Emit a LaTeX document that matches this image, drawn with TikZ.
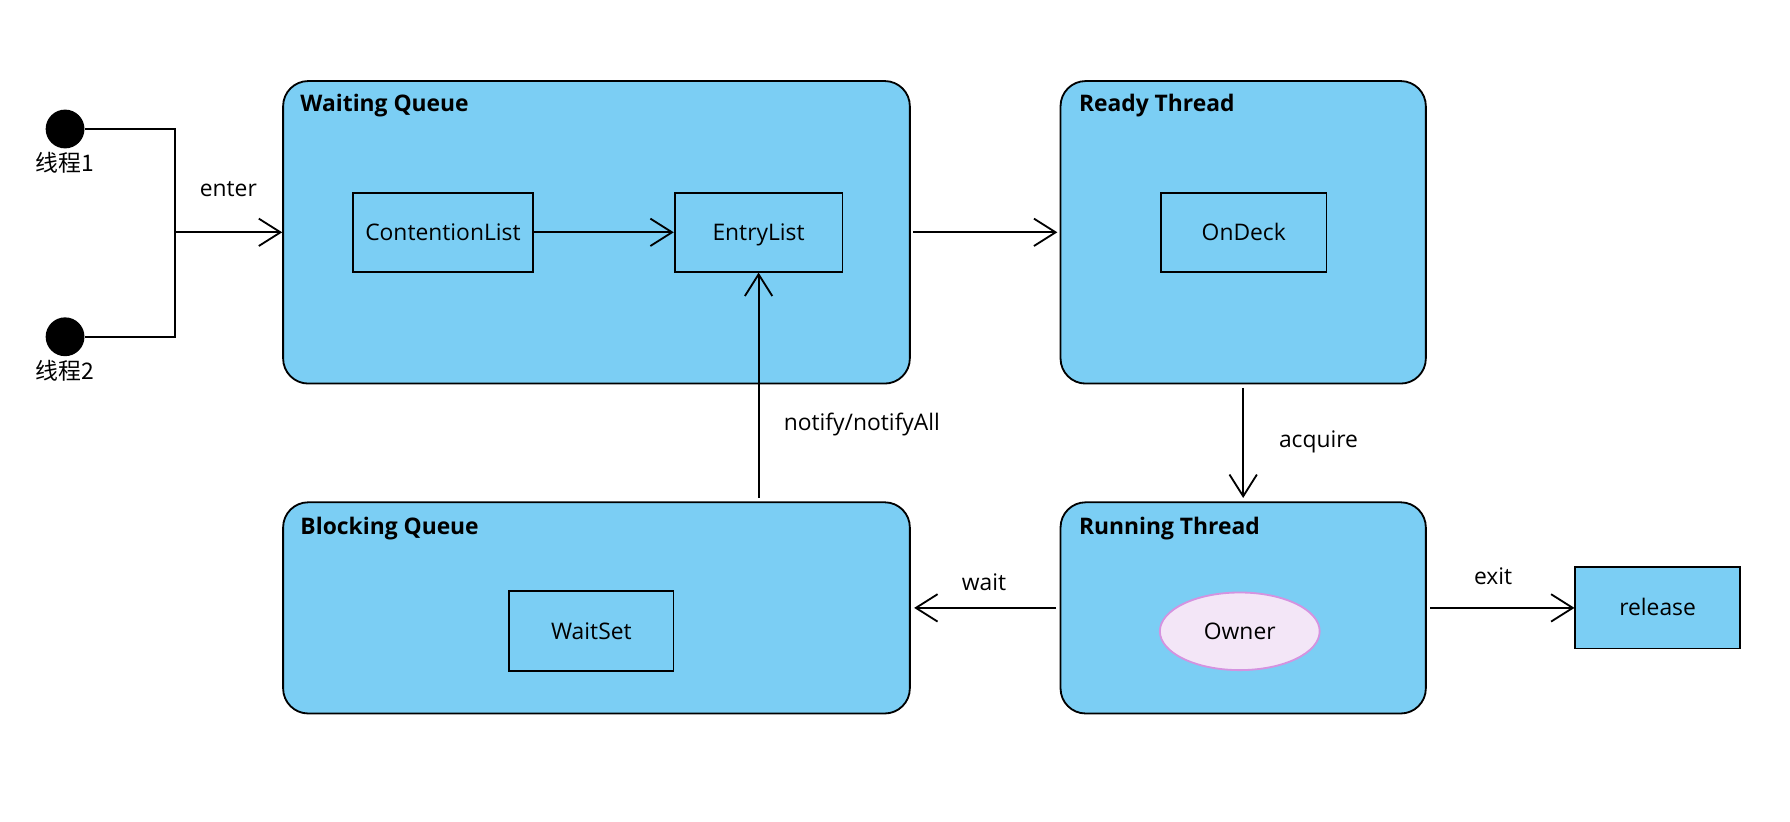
\documentclass[tikz,border=0pt]{standalone}
\usepackage{fontspec}
\setmainfont{Open Sans}
\newfontfamily\cjk{Noto Sans CJK SC}
\usetikzlibrary{arrows.meta,shapes.geometric}
\definecolor{stateblue}{HTML}{7BCEF4}
\definecolor{ownerfill}{HTML}{F3E6F7}
\definecolor{ownerdraw}{HTML}{D493E0}
\tikzset{
  region/.style={draw, fill=stateblue, line width=1.6pt, rounded corners=22pt, inner sep=0pt},
  box/.style={draw, fill=stateblue, line width=1.6pt, inner sep=0pt, text height=16pt, text depth=2pt, font=\fontsize{20}{24}\selectfont},
  title/.style={anchor=west, inner sep=0pt, text height=16pt, text depth=2pt, font=\bfseries\fontsize{20}{24}\selectfont},
  tag/.style={inner sep=0pt, text height=16pt, text depth=2pt, font=\fontsize{20}{24}\selectfont},
  start/.style={circle, fill=black, minimum size=34pt, inner sep=0pt},
  flow/.style={line width=1.6pt, -{Straight Barb[length=19pt,width=24pt]}}
}
\begin{document}
\begin{tikzpicture}[x=1pt,y=-1pt]
  \useasboundingbox (0,0) rectangle (1568,720);
  \draw
    (522.5,203.5) node[region, minimum width=549pt, minimum height=265pt] (wq){}
    (1089,203.5) node[region, minimum width=320pt, minimum height=265pt] (rt){}
    (522.5,532.5) node[region, minimum width=549pt, minimum height=185pt] (bq){}
    (1089,532.5) node[region, minimum width=320pt, minimum height=185pt] (run){}
    (263,91) node[title] (wqt){Waiting Queue}
    (945,91) node[title] (rtt){Ready Thread}
    (263,461) node[title] (bqt){Blocking Queue}
    (945,461) node[title] (runt){Running Thread}
    (388,203.5) node[box, minimum width=158pt, minimum height=69pt] (cl){ContentionList}
    (664.5,203.5) node[box, minimum width=147pt, minimum height=69pt] (el){EntryList}
    (1089.5,203.5) node[box, minimum width=145pt, minimum height=69pt] (od){OnDeck}
    (518,553) node[box, minimum width=144pt, minimum height=70pt] (ws){WaitSet}
    (1452,532.5) node[box, minimum width=144pt, minimum height=71pt] (rel){release}
    (1086,553) node[box, ellipse, draw=ownerdraw, fill=ownerfill, minimum width=140pt, minimum height=68pt] (own){Owner}
    (57,113) node[start] (t1){}
    (57,295) node[start] (t2){}
    (57,143) node[tag, font=\cjk\fontsize{20}{24}\selectfont] (t1l){线程1}
    (57,325) node[tag, font=\cjk\fontsize{20}{24}\selectfont] (t2l){线程2}
    (200,165) node[tag] (enter){enter}
    (1155,385) node[tag] (acq){acquire}
    (755,370) node[tag] (ntf){notify/notifyAll}
    (862,510) node[tag] (wait){wait}
    (1308,505) node[tag] (exit){exit};
  \coordinate (j1) at (153,113);
  \coordinate (j2) at (153,295);
  \coordinate (j) at (153,203.5);
  \begin{scope}[flow]
    \draw (j) to (wq.west);
    \draw (cl) to (el);
    \draw[shorten <=2pt, shorten >=2pt] (wq.east) to (rt.west);
    \draw[shorten <=3pt, shorten >=3pt] (rt.south) to (run.north);
    \draw[shorten <=3pt, shorten >=3pt] (run.west) to (bq.east);
    \draw[shorten <=3pt] (run.east) to (rel.west);
    \draw[shorten <=3pt] (bq.north -| el.south) to (el.south);
  \end{scope}
  \draw[line width=1.6pt] (t1.east) -- (j1) -- (j2) -- (t2.east);
\end{tikzpicture}
\end{document}
